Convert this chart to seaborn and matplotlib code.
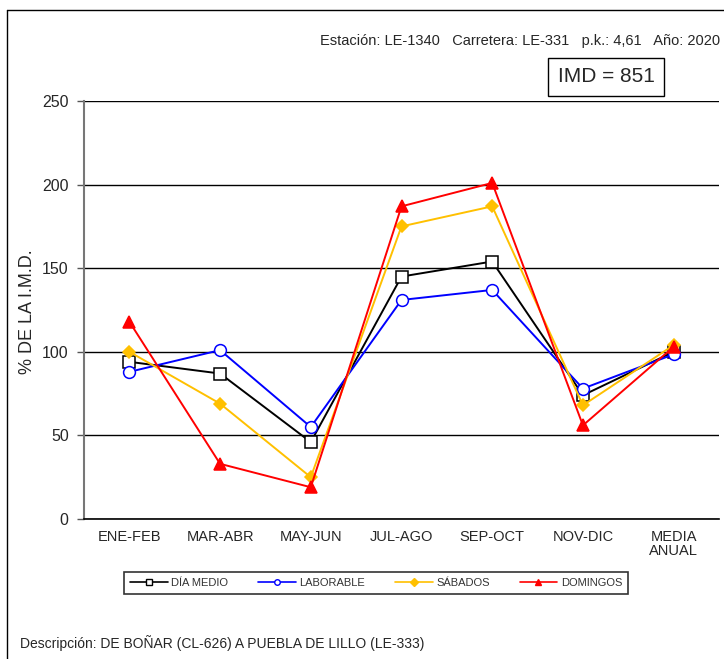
import matplotlib
matplotlib.use("Agg")
import matplotlib.pyplot as plt
import seaborn as sns
import pandas as pd
from matplotlib.lines import Line2D

categories = ["ENE-FEB", "MAR-ABR", "MAY-JUN", "JUL-AGO", "SEP-OCT", "NOV-DIC", "MEDIA\nANUAL"]
dia_medio = [94, 87, 46, 145, 154, 74, 100]
laborable = [88, 101, 55, 131, 137, 78, 98.5]
sabados = [100, 69, 25, 175, 187, 68, 104]
domingos = [118, 33, 19, 187, 201, 56, 103]
series_names = ["DÍA MEDIO", "LABORABLE", "SÁBADOS", "DOMINGOS"]
yticks = [0, 50, 100, 150, 200, 250]

sns.set_style("white")
plt.rcParams['font.family'] = ['Liberation Sans', 'DejaVu Sans']

fig = plt.figure(figsize=(7.24, 6.59), dpi=100)
W, H = 724, 659
ax = fig.add_axes([84 / W, 1 - 519 / H, (719 - 84) / W, (519 - 101) / H])

rows = []
for name, vals in zip(series_names, [dia_medio, laborable, sabados, domingos]):
    for i, v in enumerate(vals):
        rows.append({"pos": i, "val": v, "serie": name})
df = pd.DataFrame(rows)

styles = {
    "DÍA MEDIO": dict(color="black", marker="s", mfc="white", mec="black", ms=8),
    "LABORABLE": dict(color="#0000FF", marker="o", mfc="white", mec="#0000FF", ms=8.5),
    "SÁBADOS": dict(color="#FFC000", marker="D", mfc="#FFC000", mec="#FFC000", ms=6),
    "DOMINGOS": dict(color="#FF0000", marker="^", mfc="#FF0000", mec="#FF0000", ms=8),
}

for name in series_names:
    st = styles[name]
    sub = df[df["serie"] == name]
    sns.lineplot(data=sub, x="pos", y="val", ax=ax, color=st["color"], linewidth=1.4,
                 marker=st["marker"], markerfacecolor=st["mfc"], markeredgecolor=st["mec"],
                 markersize=st["ms"], markeredgewidth=1.1, legend=False)

ax.set_xlim(-0.5, len(categories) - 0.5)
ax.set_ylim(0, 250)
ax.set_yticks(yticks)
ax.set_yticklabels([str(t) for t in yticks], fontsize=11.5)
ax.yaxis.grid(True, color="black", linewidth=1.0)
ax.set_axisbelow(True)
ax.set_xticks(range(len(categories)))
ax.set_xticklabels(categories, fontsize=10.5, linespacing=1.0)
ax.set_xticks([i - 0.5 for i in range(len(categories) + 1)], minor=True)
ax.tick_params(axis="x", which="major", length=0, pad=8)
ax.tick_params(axis="x", which="minor", length=5, direction="out", color="#555555", width=1)
ax.tick_params(axis="y", length=5, direction="out", color="#555555", width=1, left=True, pad=6)
ax.set_xlabel("")
ax.set_ylabel("% DE LA I.M.D.", fontsize=13)
ax.yaxis.set_label_coords((36 - 84) / (719 - 84), (519 - 312) / (519 - 101))

for s in ["top", "right"]:
    ax.spines[s].set_visible(False)
ax.spines["left"].set_color("#777777")
ax.spines["left"].set_linewidth(1.5)
ax.spines["bottom"].set_color("black")
ax.spines["bottom"].set_linewidth(1.2)

# outer frame (top and left)
fig.add_artist(Line2D([7 / W, 1], [1 - 10 / H, 1 - 10 / H], color="black", linewidth=1.0, transform=fig.transFigure))
fig.add_artist(Line2D([7 / W, 7 / W], [0, 1 - 10 / H], color="black", linewidth=1.0, transform=fig.transFigure))

fig.text(320 / W, 1 - 41 / H, "Estación: LE-1340   Carretera: LE-331   p.k.: 4,61   Año: 2020",
         ha="left", va="center", fontsize=10.5)
fig.text(606 / W, 1 - 77 / H, "IMD = 851", ha="center", va="center", fontsize=15,
         bbox=dict(boxstyle="square,pad=0.45", fc="white", ec="black", lw=1.0))

handles = [Line2D([0], [0], color=styles[n]["color"], linewidth=1.2, marker=styles[n]["marker"],
                  markerfacecolor=styles[n]["mfc"], markeredgecolor=styles[n]["mec"],
                  markersize=4) for n in series_names]
leg = fig.legend(handles, series_names, loc="center", bbox_to_anchor=(376 / W, 1 - 583 / H),
                 ncol=4, fontsize=8, frameon=True, fancybox=False, edgecolor="black",
                 handlelength=3.4, handletextpad=0.3, columnspacing=2.7, borderpad=0.55)
leg.get_frame().set_linewidth(1.2)
for t in leg.get_texts():
    t.set_color("#333333")

fig.text(20 / W, 1 - 643 / H, "Descripción: DE BOÑAR (CL-626) A PUEBLA DE LILLO (LE-333)",
         ha="left", va="center", fontsize=10)

fig.savefig("out.png", dpi=100, facecolor="white")
